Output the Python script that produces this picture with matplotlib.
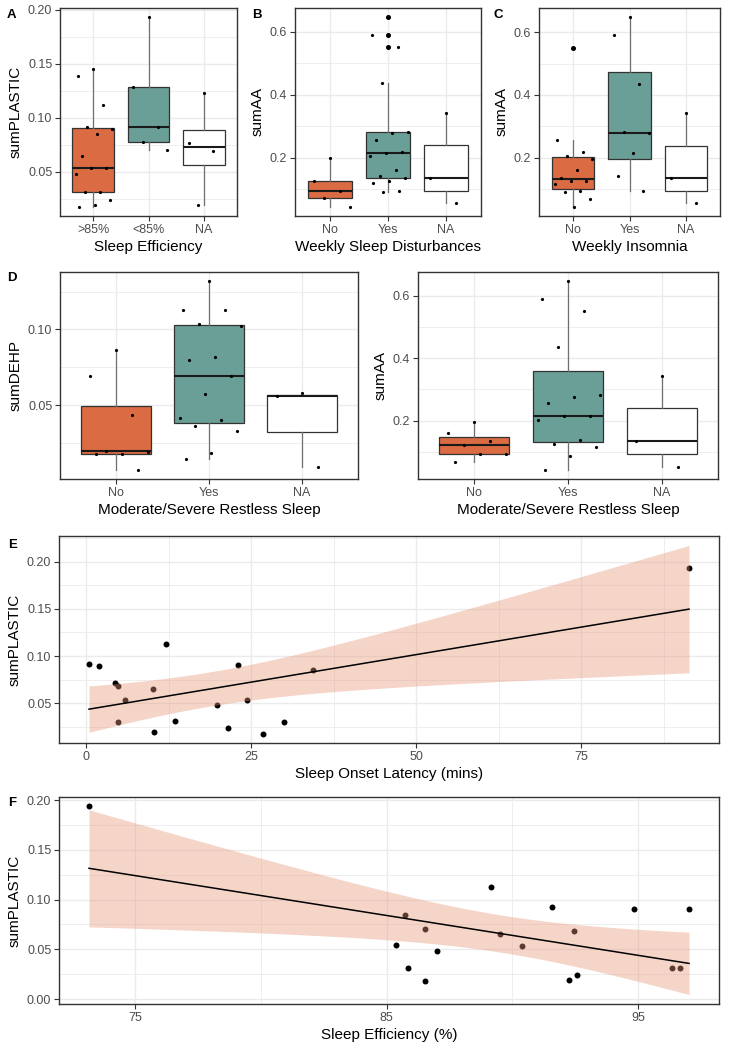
import numpy as np
import matplotlib
matplotlib.use("Agg")
import matplotlib.pyplot as plt
from matplotlib.ticker import FixedLocator, FormatStrFormatter

plt.rcParams['font.family'] = ['Liberation Sans', 'DejaVu Sans']

# ---------------- data ----------------
groups_A = [">85%", "<85%", "NA"]
A_gt85 = [0.145, 0.139, 0.112, 0.092, 0.090, 0.085, 0.065, 0.054, 0.054, 0.048, 0.031, 0.031, 0.024, 0.019, 0.018]
A_lt85 = [0.193, 0.129, 0.092, 0.078, 0.070]
A_na = [0.123, 0.077, 0.069, 0.019]

groups_yn = ["No", "Yes", "NA"]
B_no = [0.197, 0.126, 0.095, 0.070, 0.044]
B_yes = [0.646, 0.590, 0.552, 0.436, 0.282, 0.277, 0.257, 0.217, 0.215, 0.204, 0.160, 0.140, 0.136, 0.126, 0.120, 0.095, 0.089]
B_na = [0.341, 0.136, 0.054]

C_no = [0.550, 0.257, 0.218, 0.204, 0.196, 0.161, 0.136, 0.126, 0.125, 0.117, 0.094, 0.089, 0.068, 0.044]
C_yes = [0.647, 0.590, 0.435, 0.281, 0.277, 0.216, 0.140, 0.095]
C_na = [0.341, 0.136, 0.054]

D_dehp_no = [0.0862, 0.0692, 0.0434, 0.0201, 0.0195, 0.0181, 0.0176, 0.0076]
D_dehp_yes = [0.1317, 0.1129, 0.1129, 0.1035, 0.1024, 0.0817, 0.0801, 0.0694, 0.0576, 0.0415, 0.0404, 0.0362, 0.0329, 0.0185, 0.0146]
D_dehp_na = [0.0581, 0.0559, 0.0094]

D_aa_no = [0.195, 0.159, 0.1355, 0.1227, 0.093, 0.092, 0.0674]
D_aa_yes = [0.6467, 0.590, 0.551, 0.435, 0.282, 0.277, 0.256, 0.216, 0.214, 0.202, 0.1376, 0.124, 0.116, 0.0855, 0.043]
D_aa_na = [0.3427, 0.1355, 0.0515]

E_latency = [0.4, 1.9, 4.3, 4.8, 4.8, 5.8, 10.1, 10.3, 12.1, 13.5, 19.8, 21.4, 22.9, 24.4, 26.8, 30.0, 34.4, 91.3]
E_plastic = [0.0918, 0.0897, 0.0709, 0.0677, 0.0301, 0.0532, 0.0649, 0.0195, 0.1124, 0.0312, 0.0479, 0.0238, 0.0908, 0.0532, 0.0177, 0.0301, 0.0851, 0.193]

F_efficiency = [73.16, 85.36, 85.75, 85.86, 86.54, 86.54, 86.99, 89.17, 89.52, 90.39, 91.57, 92.27, 92.47, 92.59, 94.83, 96.35, 96.68, 97.03]
F_plastic = [0.1937, 0.0543, 0.0843, 0.031, 0.070, 0.018, 0.0487, 0.113, 0.0653, 0.0537, 0.0927, 0.0193, 0.0687, 0.0237, 0.091, 0.031, 0.031, 0.0903]

# ---------------- style ----------------
W, H = 732, 1050
ORANGE = '#DA6B43'
TEAL = '#6A9F97'
RIBBON = '#E9967A'
GRID = '#EBEBEB'
DARK = '#333333'
TICKCOL = '#4D4D4D'
TICK_FS = 9.0
LAB_FS = 11.0

fig = plt.figure(figsize=(W / 100, H / 100), dpi=100)


def make_ax(l, t, r, b):
    ax = fig.add_axes([l / W, 1 - b / H, (r - l) / W, (b - t) / H])
    for s in ax.spines.values():
        s.set_color(DARK)
        s.set_linewidth(1.0)
    ax.tick_params(length=3.5, width=0.8, color=DARK, labelcolor=TICKCOL,
                   labelsize=TICK_FS, pad=2)
    ax.set_axisbelow(True)
    return ax


def expand(lo, hi, f=0.05):
    r = hi - lo
    return lo - f * r, hi + f * r


def style_y(ax, lo, hi, major, fmt):
    ax.set_ylim(*expand(lo, hi))
    ax.yaxis.set_major_locator(FixedLocator(major))
    step = major[1] - major[0]
    minors = [m - step / 2 for m in major] + [major[-1] + step / 2]
    ax.yaxis.set_minor_locator(FixedLocator(minors))
    ax.yaxis.set_major_formatter(FormatStrFormatter(fmt))
    ax.tick_params(axis='y', which='minor', length=0)
    ax.grid(True, axis='y', which='major', color=GRID, lw=1.0)
    ax.grid(True, axis='y', which='minor', color=GRID, lw=0.6)


def jitter(n):
    return 0.36 * (((np.arange(n) * 0.618034 + 0.5) % 1.0) * 2 - 1)


def boxpanel(ax, data, labels, major, fmt, xlabel, ylabel):
    fills = [ORANGE, TEAL, 'white']
    pos = np.arange(1, len(data) + 1)
    bp = ax.boxplot(data, positions=pos, widths=0.75, patch_artist=True,
                    showcaps=False, whis=1.5,
                    boxprops=dict(edgecolor=DARK, linewidth=0.9),
                    whiskerprops=dict(color='#707070', linewidth=0.9),
                    medianprops=dict(color='#1A1A1A', linewidth=1.5),
                    flierprops=dict(marker='o', markerfacecolor='black',
                                    markeredgecolor='black', markersize=2.6))
    for patch, c in zip(bp['boxes'], fills):
        patch.set_facecolor(c)
    for i, d in enumerate(data):
        ax.plot(pos[i] + jitter(len(d)), d, 'o', color='black', ms=2.3,
                mew=0, zorder=5)
    ax.set_xlim(0.4, len(data) + 0.6)
    ax.set_xticks(pos)
    ax.set_xticklabels(labels)
    ax.grid(True, axis='x', color=GRID, lw=1.0)
    allv = np.concatenate([np.asarray(d) for d in data])
    style_y(ax, allv.min(), allv.max(), major, fmt)
    ax.set_xlabel(xlabel, fontsize=LAB_FS, labelpad=3)
    ax.set_ylabel(ylabel, fontsize=LAB_FS, labelpad=4)


def lm_panel(ax, x, y, xmajor, ymajor, yfmt, xlabel, ylabel):
    x = np.asarray(x)
    y = np.asarray(y)
    n = len(x)
    b1, b0 = np.polyfit(x, y, 1)
    xs = np.linspace(x.min(), x.max(), 80)
    yhat = b0 + b1 * xs
    resid = y - (b0 + b1 * x)
    s = np.sqrt(np.sum(resid ** 2) / (n - 2))
    sxx = np.sum((x - x.mean()) ** 2)
    se = s * np.sqrt(1 / n + (xs - x.mean()) ** 2 / sxx)
    tcrit = 2.1199  # t(0.975, df=16)
    lo = yhat - tcrit * se
    hi = yhat + tcrit * se
    ax.plot(x, y, 'o', color='black', ms=4.3, mew=0, zorder=2)
    ax.fill_between(xs, lo, hi, color=RIBBON, alpha=0.4, lw=0, zorder=3)
    ax.plot(xs, yhat, color='black', lw=1.1, zorder=4)
    ax.set_xlim(*expand(x.min(), x.max()))
    ax.xaxis.set_major_locator(FixedLocator(xmajor))
    step = xmajor[1] - xmajor[0]
    ax.xaxis.set_minor_locator(FixedLocator([m - step / 2 for m in xmajor] + [xmajor[-1] + step / 2]))
    ax.tick_params(axis='x', which='minor', length=0)
    ax.grid(True, axis='x', which='major', color=GRID, lw=1.0)
    ax.grid(True, axis='x', which='minor', color=GRID, lw=0.6)
    ylo = min(y.min(), lo.min())
    yhi = max(y.max(), hi.max())
    style_y(ax, ylo, yhi, ymajor, yfmt)
    ax.set_xlabel(xlabel, fontsize=LAB_FS, labelpad=3)
    ax.set_ylabel(ylabel, fontsize=LAB_FS, labelpad=4)


# ---------------- panels ----------------
axA = make_ax(60, 8, 237, 216)
boxpanel(axA, [A_gt85, A_lt85, A_na], groups_A, [0.05, 0.10, 0.15, 0.20], '%.2f',
         'Sleep Efficiency', 'sumPLASTIC')

axB = make_ax(295, 8, 481, 216)
boxpanel(axB, [B_no, B_yes, B_na], groups_yn, [0.2, 0.4, 0.6], '%.1f',
         'Weekly Sleep Disturbances', 'sumAA')

axC = make_ax(539, 8, 720, 216)
boxpanel(axC, [C_no, C_yes, C_na], groups_yn, [0.2, 0.4, 0.6], '%.1f',
         'Weekly Insomnia', 'sumAA')

axD1 = make_ax(60, 272, 358, 479)
boxpanel(axD1, [D_dehp_no, D_dehp_yes, D_dehp_na], groups_yn, [0.05, 0.10], '%.2f',
         'Moderate/Severe Restless Sleep', 'sumDEHP')

axD2 = make_ax(418, 272, 718, 479)
boxpanel(axD2, [D_aa_no, D_aa_yes, D_aa_na], groups_yn, [0.2, 0.4, 0.6], '%.1f',
         'Moderate/Severe Restless Sleep', 'sumAA')

axE = make_ax(59, 536, 719, 743)
lm_panel(axE, E_latency, E_plastic, [0, 25, 50, 75], [0.05, 0.10, 0.15, 0.20], '%.2f',
         'Sleep Onset Latency (mins)', 'sumPLASTIC')

axF = make_ax(59, 797, 719, 1004)
lm_panel(axF, F_efficiency, F_plastic, [75, 85, 95], [0.00, 0.05, 0.10, 0.15, 0.20], '%.2f',
         'Sleep Efficiency (%)', 'sumPLASTIC')

# panel letters
for letter, px, py in [('A', 7, 9), ('B', 252, 9), ('C', 493, 9), ('D', 7, 272),
                       ('E', 8, 539), ('F', 8, 797)]:
    fig.text(px / W, 1 - py / H, letter, fontsize=9.5, fontweight='bold',
             ha='left', va='top')

fig.savefig('out.png', dpi=100)
